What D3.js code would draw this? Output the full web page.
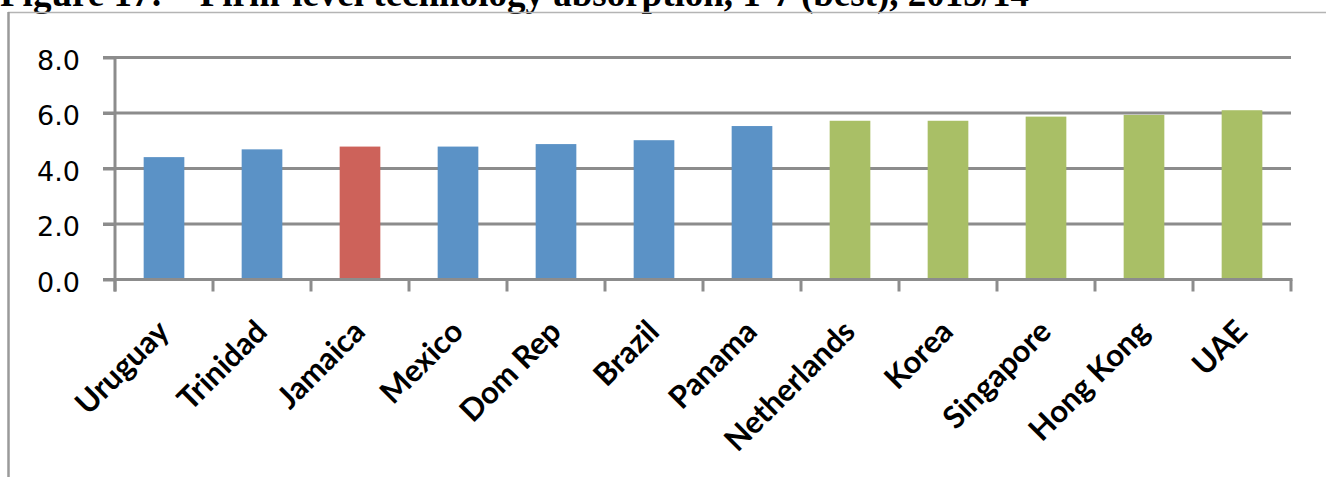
<!DOCTYPE html>
<html>
<head>
<meta charset="utf-8">
<script src="https://cdn.jsdelivr.net/npm/d3@7"></script>
<style>
  html, body { margin: 0; padding: 0; background: #fff; overflow: hidden; }
  svg { display: block; }
</style>
</head>
<body>
<svg id="chart" width="1326" height="477"></svg>
<script>
// Firm-level technology absorption scores (1-7, best)
const countries = ["Uruguay", "Trinidad", "Jamaica", "Mexico", "Dom Rep", "Brazil",
                   "Panama", "Netherlands", "Korea", "Singapore", "Hong Kong", "UAE"];
const scores = [4.41, 4.69, 4.79, 4.79, 4.88, 5.02, 5.53, 5.72, 5.72, 5.87, 5.93, 6.10];
const groups = ["region", "region", "focus", "region", "region", "region",
                "region", "leader", "leader", "leader", "leader", "leader"];
const yTicks = [0, 2, 4, 6, 8];
const titleText = "Figure 17: \u2013 Firm-level technology absorption, 1-7 (best), 2013/14";

const groupColor = { region: "#5b92c6", focus: "#cd625a", leader: "#a9bf66" };

const svg = d3.select("#chart");
const W = 1326, H = 477;
const plot = { left: 115, right: 1291, top: 57.5, bottom: 279.5 };

// Title, sitting above the chart frame
svg.append("text")
  .attr("x", 0).attr("y", 6)
  .attr("font-family", "'Liberation Serif', 'Times New Roman', serif")
  .attr("font-weight", "bold")
  .attr("font-size", 37)
  .attr("fill", "#000")
  .text(titleText);

// Chart frame (left and top edges)
svg.append("line").attr("x1", 8).attr("x2", W).attr("y1", 12.5).attr("y2", 12.5)
  .attr("stroke", "#b4b4b4").attr("stroke-width", 1.5);
svg.append("line").attr("x1", 8.5).attr("x2", 8.5).attr("y1", 12).attr("y2", H)
  .attr("stroke", "#9a9a9a").attr("stroke-width", 2.5);

const x = d3.scaleBand().domain(countries).range([plot.left, plot.right]).paddingInner(0.585).paddingOuter(0.2925);
const xGrid = d3.scaleBand().domain(countries).range([plot.left, plot.right]);
const y = d3.scaleLinear().domain([0, 8]).range([plot.bottom, plot.top]);

const gridColor = "#8c8c8c";

// Horizontal gridlines with outward ticks on the left
svg.append("g").selectAll("line").data(yTicks.filter(d => d > 0)).join("line")
  .attr("x1", plot.left - 12).attr("x2", plot.right)
  .attr("y1", d => y(d)).attr("y2", d => y(d))
  .attr("stroke", gridColor).attr("stroke-width", 3);

// Bars
svg.append("g").selectAll("rect").data(countries).join("rect")
  .attr("x", d => x(d))
  .attr("width", x.bandwidth())
  .attr("y", (d, i) => y(scores[i]))
  .attr("height", (d, i) => y(0) - y(scores[i]))
  .attr("fill", (d, i) => groupColor[groups[i]]);

// Y axis
const yAxis = d3.axisLeft(y).tickValues(yTicks).tickFormat(d3.format(".1f")).tickSize(12).tickPadding(23);
const gy = svg.append("g").attr("transform", `translate(${plot.left},0)`).call(yAxis);
gy.select(".domain").remove();
gy.append("line").attr("x1", 0).attr("x2", 0).attr("y1", plot.top - 1.5).attr("y2", plot.bottom + 12)
  .attr("stroke", gridColor).attr("stroke-width", 3);
gy.selectAll(".tick line").attr("stroke", gridColor).attr("stroke-width", 3);
gy.selectAll(".tick text")
  .attr("font-family", "'DejaVu Sans', Verdana, sans-serif")
  .attr("font-size", 27)
  .attr("fill", "#000")
  .attr("dy", "0.43em");

// X axis line with ticks at category boundaries
svg.append("line").attr("x1", plot.left - 12).attr("x2", plot.right + 1.5)
  .attr("y1", y(0)).attr("y2", y(0))
  .attr("stroke", gridColor).attr("stroke-width", 3);
const bounds = countries.map(c => xGrid(c)).concat([plot.right]);
svg.append("g").selectAll("line").data(bounds).join("line")
  .attr("x1", d => d).attr("x2", d => d)
  .attr("y1", y(0)).attr("y2", y(0) + 12)
  .attr("stroke", gridColor).attr("stroke-width", 3);

// Rotated category labels
svg.append("g").selectAll("text").data(countries).join("text")
  .attr("transform", d => `translate(${x(d) + x.bandwidth() / 2 + 7},${y(0) + 54}) rotate(-45)`)
  .attr("text-anchor", "end")
  .attr("font-family", "Lato, 'Open Sans', sans-serif")
  .attr("font-weight", "bold")
  .attr("font-size", 31)
  .attr("fill", "#000")
  .text(d => d);
</script>
</body>
</html>
